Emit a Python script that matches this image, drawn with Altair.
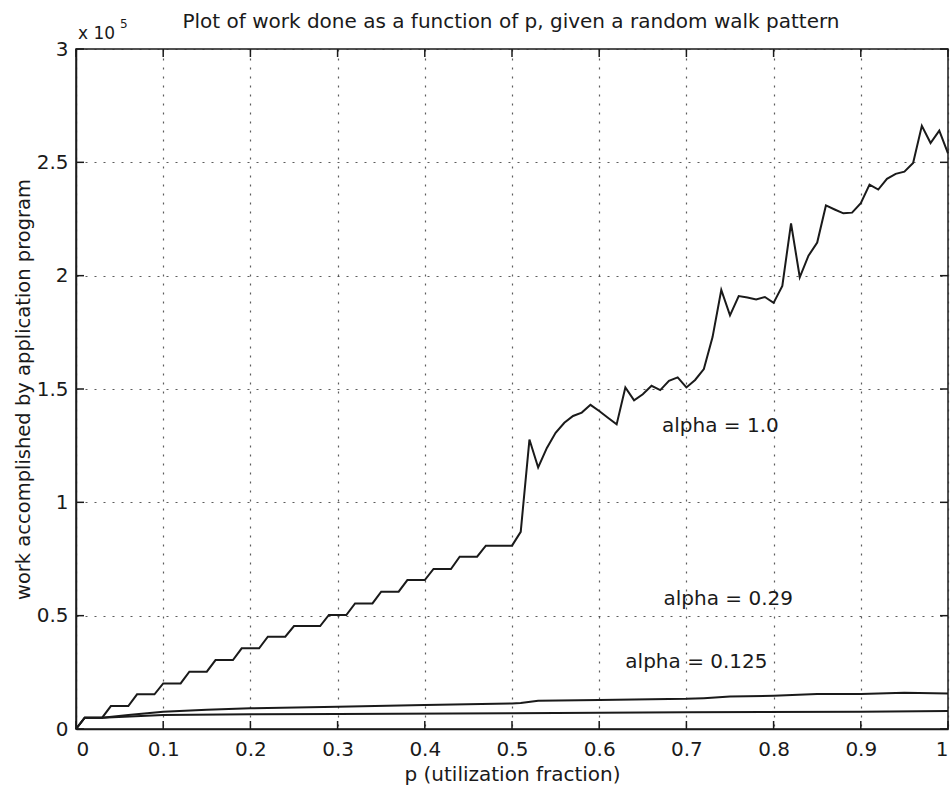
import altair as alt
import pandas as pd

# ---- data ----
p_main = [round(i * 0.01, 2) for i in range(101)]
w_main = [
    0,
    5000, 5000, 5000,
    10100, 10100, 10100,
    15300, 15300, 15300,
    20100, 20100, 20100,
    25300, 25300, 25300,
    30400, 30400, 30400,
    35600, 35600, 35600,
    40700, 40700, 40700,
    45400, 45400, 45400, 45400,
    50300, 50300, 50300,
    55400, 55400, 55400,
    60600, 60600, 60600,
    65700, 65700, 65700,
    70600, 70600, 70600,
    76000, 76000, 76000,
    80900, 80900, 80900, 80900,
    87000, 127700, 115400, 124000, 130700, 135100, 138100, 139600, 143000, 140300,
    137300, 134400, 150700, 145000, 147700, 151400, 149500, 153600, 155100, 150700,
    154000, 158800, 172900, 193700, 182500, 191000, 190400, 189500, 190600, 188000,
    195500, 223100, 199300, 208800, 214600, 231000, 229200, 227500, 227800, 232000,
    240200, 238000, 242700, 244900, 245900, 249700, 266100, 258500, 264000, 254000,
]

p_029 = [0, 0.01, 0.03, 0.06, 0.1, 0.15, 0.2, 0.3, 0.4, 0.5, 0.51, 0.53, 0.6, 0.7, 0.72, 0.75, 0.8, 0.85, 0.9, 0.95, 1.0]
w_029 = [0, 5000, 5000, 6200, 7600, 8500, 9100, 9850, 10600, 11300, 11500, 12500, 12800, 13300, 13600, 14300, 14700, 15400, 15400, 16000, 15700]

p_0125 = [0, 0.01, 0.03, 0.1, 0.2, 0.3, 0.5, 0.7, 0.9, 1.0]
w_0125 = [0, 5000, 5000, 6200, 6500, 6600, 7000, 7350, 7650, 7900]

labels = ["alpha = 1.0", "alpha = 0.29", "alpha = 0.125"]
label_p = [0.739, 0.748, 0.7115]
label_w = [133600, 57300, 29700]

x_ticks = [round(i * 0.1, 1) for i in range(11)]
y_ticks = [i * 50000 for i in range(7)]

title = "Plot of work done as a function of p, given a random walk pattern"
x_title = "p (utilization fraction)"
y_title = "work accomplished by application program"
exp_base = "x 10"
exp_power = "5"

# ---- build ----
W, H = 872, 680
FONT = "DejaVu Sans"
INK = "#1a1a1a"

lines_df = pd.concat([
    pd.DataFrame({"p": p_main, "w": w_main, "s": "alpha = 1.0"}),
    pd.DataFrame({"p": p_029, "w": w_029, "s": "alpha = 0.29"}),
    pd.DataFrame({"p": p_0125, "w": w_0125, "s": "alpha = 0.125"}),
])
lab_df = pd.DataFrame({"p": label_p, "w": label_w, "t": labels})
xt_df = pd.DataFrame({"p": x_ticks})
yt_df = pd.DataFrame({"w": y_ticks})

x_enc = alt.X("p:Q", scale=alt.Scale(domain=[0, 1], nice=False, zero=False),
              axis=alt.Axis(title=x_title, values=x_ticks, format="~g"))
y_enc = alt.Y("w:Q", scale=alt.Scale(domain=[0, 300000], nice=False),
              axis=alt.Axis(title=y_title, values=y_ticks,
                            labelExpr="format(datum.value / 100000, '~g')"))

lines = alt.Chart(lines_df).mark_line(color=INK, strokeWidth=2, interpolate="linear").encode(
    x=x_enc, y=y_enc, detail="s:N")

texts = alt.Chart(lab_df).mark_text(font=FONT, fontSize=20, color=INK, align="center",
                                    baseline="middle").encode(x=x_enc, y=y_enc, text="t:N")

# title and the "x 10^5" multiplier drawn as text marks above the plot area
top_df = pd.DataFrame({"t": [title], "a": [exp_base], "b": [exp_power]})
title_mark = alt.Chart(top_df).mark_text(font=FONT, fontSize=20, color=INK, align="center",
                                         baseline="alphabetic").encode(
    x=alt.value(W / 2 - 1), y=alt.value(-21), text="t:N")
exp1 = alt.Chart(top_df).mark_text(font=FONT, fontSize=17, color=INK, align="left",
                                   baseline="alphabetic").encode(
    x=alt.value(2), y=alt.value(-10), text="a:N")
exp2 = alt.Chart(top_df).mark_text(font=FONT, fontSize=12, color=INK, align="left",
                                   baseline="alphabetic").encode(
    x=alt.value(44), y=alt.value(-21), text="b:N")

TL = 8
tick_b = alt.Chart(xt_df).mark_rule(color=INK, strokeWidth=1.5).encode(
    x=x_enc, y=alt.value(H), y2=alt.value(H - TL))
tick_t = alt.Chart(xt_df).mark_rule(color=INK, strokeWidth=1.5).encode(
    x=x_enc, y=alt.value(0), y2=alt.value(TL))
tick_l = alt.Chart(yt_df).mark_rule(color=INK, strokeWidth=1.5).encode(
    y=y_enc, x=alt.value(0), x2=alt.value(TL))
tick_r = alt.Chart(yt_df).mark_rule(color=INK, strokeWidth=1.5).encode(
    y=y_enc, x=alt.value(W), x2=alt.value(W - TL))

chart = alt.layer(lines, texts, title_mark, exp1, exp2, tick_b, tick_t, tick_l, tick_r).properties(
    width=W, height=H,
    background="white",
    autosize=alt.AutoSizeParams(type="none"),
    padding={"left": 76, "top": 49, "right": 2, "bottom": 61},
).configure_view(
    stroke=INK, strokeWidth=1.5
).configure_axis(
    labelFont=FONT, titleFont=FONT, labelFontSize=20, titleFontSize=20,
    titleFontWeight="normal", labelColor=INK, titleColor=INK,
    domainColor=INK, domainWidth=1.5, ticks=False,
    grid=True, gridColor="#333333", gridDash=[2, 7], gridWidth=1.2, gridOpacity=0.8,
).configure_axisX(
    labelPadding=10, titlePadding=5,
).configure_axisY(
    labelPadding=8, titlePadding=3, titleFontSize=19.5,
)

chart.save("out.html", embed_options={"renderer": "svg", "actions": False})
